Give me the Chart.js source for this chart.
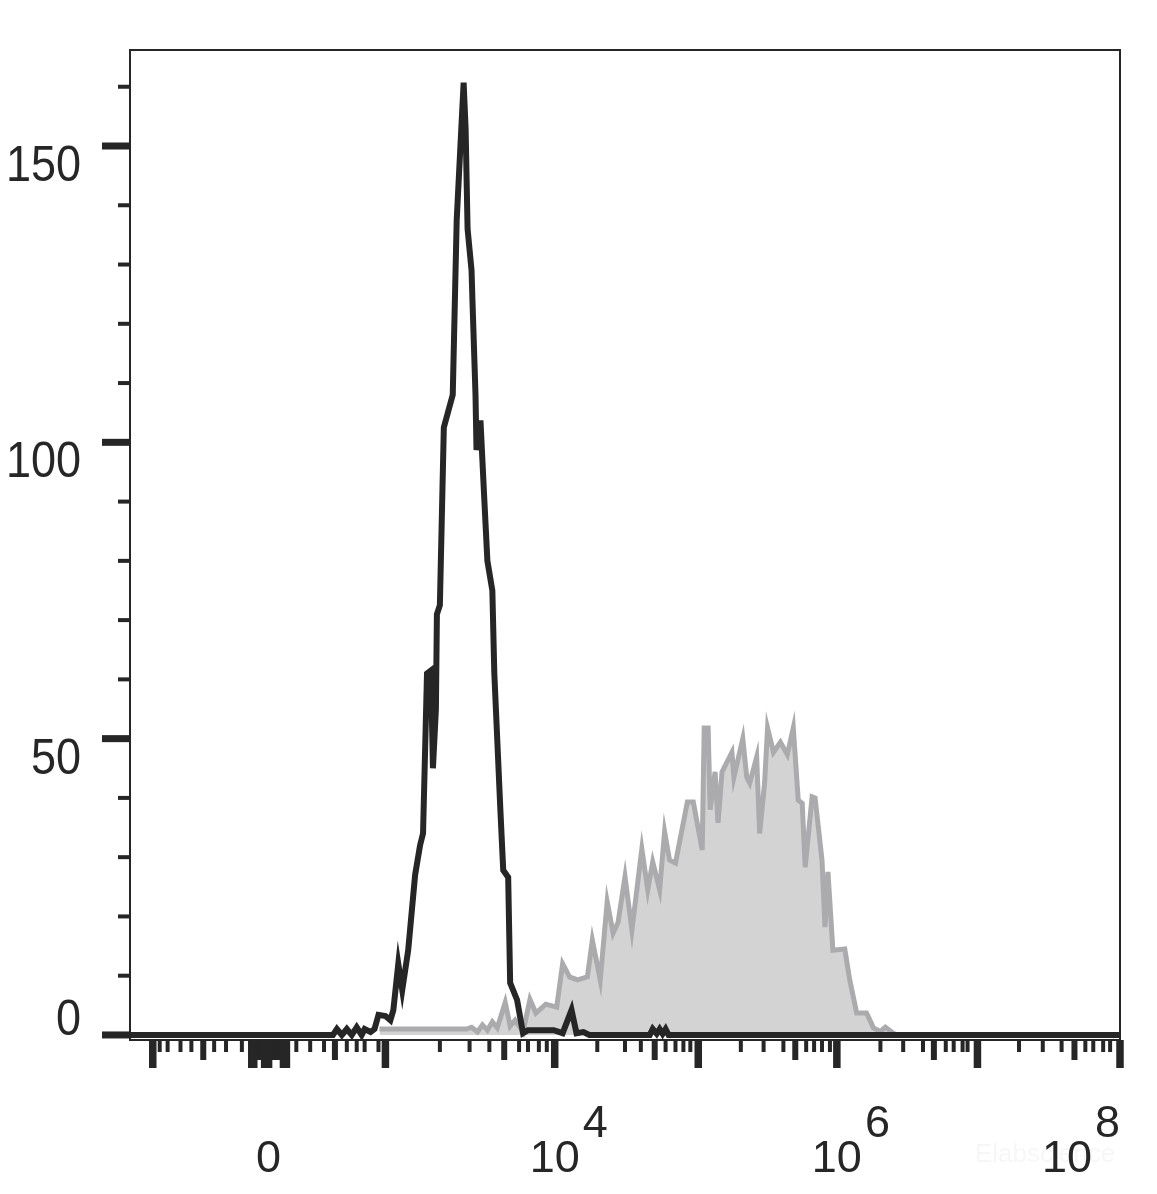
<!DOCTYPE html>
<html>
<head>
<meta charset="utf-8">
<script src="https://cdn.jsdelivr.net/npm/chart.js@4.4.1/dist/chart.umd.min.js"></script>
<style>
  html, body { margin: 0; padding: 0; background: #fff; }
  #wrap { width: 1157px; height: 1194px; }
</style>
</head>
<body>
<div id="wrap"><canvas id="histo" width="1157" height="1194"></canvas></div>
<script>
// x values are display channels (0-1000) of the biexponential axis
const isotypeX = [0, 205, 209, 214, 219, 224, 229, 234, 237, 243, 247, 251, 258, 263, 266, 271, 275, 281, 288, 293,
  296, 298, 300, 304, 306, 309, 310, 313, 317, 326, 330, 333, 337, 339, 341, 345, 346, 349, 350, 354,
  358, 361, 366, 368, 374, 377, 382, 384, 391, 397, 402, 428, 437, 446, 451, 458, 464, 525, 528, 532,
  535, 538, 541, 544, 1000];
const isotypeY = [0, 0, 1, 0, 1, 0, 1.3, 0, 1, 0.5, 1, 3.4, 3.2, 2.5, 4.2, 12, 7.6, 14.3, 27, 32,
  34, 47.5, 61, 61.5, 45, 55, 71, 72.5, 102.5, 108, 137.5, 147.5, 160.7, 153, 136, 129, 123.5, 108, 98.7, 103.7,
  90, 80, 75, 61, 38.4, 27.8, 26.6, 8.8, 5.9, 0.3, 0.8, 0.8, 0.3, 4.2, 0.3, 0.5, 0, 0, 1, 0.2,
  1, 0.2, 1, 0, 0];

const stainedX = [252, 340, 345, 351, 356, 361, 366, 371, 379, 384, 389, 397, 404, 410, 420, 431, 437, 444, 452, 462,
  467, 475, 482, 488, 493, 500, 507, 517, 523, 528, 535, 540, 545, 551, 563, 569, 578, 580, 584, 586,
  591, 594, 598, 608, 610, 619, 623, 626, 633, 636, 641, 644, 650, 657, 664, 670, 675, 679, 682, 689,
  692, 699, 702, 705, 710, 722, 727, 734, 744, 751, 758, 763, 771, 775];
const stainedY = [1, 1, 1.3, 0.5, 1.7, 0.8, 2.2, 1.2, 5.5, 1.5, 2.5, 0.5, 6, 3.7, 5.2, 4.7, 12, 9.8, 9.3, 9.8,
  16, 9.3, 22.5, 17.2, 19, 26.7, 17.7, 31.4, 24.5, 29.2, 24.5, 34.3, 29.5, 29, 39.3, 39.3, 31.2, 51.8, 51.8, 38,
  44.4, 35.8, 44.4, 47.7, 43.5, 50, 43.5, 42.5, 46.9, 34, 42.5, 51.8, 47.7, 49.4, 47.3, 51.8, 39.6, 39.1, 28.3, 40.2,
  40, 29.5, 18.2, 27.5, 14.3, 14.5, 9.3, 3.7, 3.7, 1.2, 0.6, 1.3, 0.3, 0];

const yMajorTicks = [0, 50, 100, 150];
const yMinorTicks = [10, 20, 30, 40, 60, 70, 80, 90, 110, 120, 130, 140, 160];

const xLongTicks = [23, 123, 125, 136, 140, 155, 158, 258, 429, 574, 714, 856, 1000];
const xMidTicks = [74, 130, 132, 145, 149, 207, 378, 530, 672, 812, 954];
const xShortTicks = [30, 38, 51, 62, 85, 97, 113, 168, 182, 196, 219, 229, 237, 251, 313, 343, 363, 393, 402, 413,
  421, 472, 500, 516, 541, 551, 559, 566, 617, 640, 660, 683, 691, 699, 707, 758, 781, 801, 824, 832,
  841, 846, 898, 922, 941, 965, 973, 983, 990];

const xLabelPos = [140, 429, 714, 1000];
const xLabelBase = ['0', '10', '10', '10'];
const xLabelExp = ['', '4', '6', '8'];

const ink = '#262626';

const axesPlugin = {
  id: 'flowAxes',
  afterDraw(chart) {
    const ctx = chart.ctx;
    const a = chart.chartArea;
    const xs = chart.scales.x;
    const ys = chart.scales.y;
    ctx.save();
    ctx.fillStyle = ink;
    ctx.strokeStyle = ink;

    // frame
    ctx.lineWidth = 2;
    ctx.strokeRect(a.left, a.top, a.right - a.left, a.bottom - a.top);

    // y ticks
    yMajorTicks.forEach(v => {
      const py = ys.getPixelForValue(v);
      ctx.fillRect(a.left - 28, py - 3.5, 28, 7);
    });
    yMinorTicks.forEach(v => {
      const py = ys.getPixelForValue(v);
      ctx.fillRect(a.left - 12, py - 2, 12, 4);
    });

    // x ticks
    const xt = (list, len, w) => list.forEach(v => {
      const px = xs.getPixelForValue(v);
      ctx.fillRect(px - w / 2, a.bottom, w, len);
    });
    xt(xShortTicks, 12, 4);
    xt(xMidTicks, 20, 6);
    xt(xLongTicks, 28, 7.5);

    // y labels
    ctx.font = '50px "Liberation Sans", Arial, sans-serif';
    ctx.textAlign = 'right';
    ctx.textBaseline = 'alphabetic';
    yMajorTicks.forEach(v => {
      const py = ys.getPixelForValue(v);
      const base = Math.min(py + 35, a.bottom - 5);
      ctx.save();
      ctx.translate(81, base);
      ctx.scale(0.9, 1);
      ctx.fillText(String(v), 0, 0);
      ctx.restore();
    });

    // watermark
    ctx.font = '26px "Liberation Sans", Arial, sans-serif';
    ctx.textAlign = 'left';
    ctx.fillStyle = 'rgba(0,0,0,0.035)';
    ctx.fillText('Elabscience', 975, 1162);

    // x labels
    ctx.fillStyle = ink;
    ctx.font = '45px "Liberation Sans", Arial, sans-serif';
    ctx.textAlign = 'left';
    xLabelPos.forEach((v, i) => {
      const px = xs.getPixelForValue(v);
      const wb = ctx.measureText(xLabelBase[i]).width;
      const we = xLabelExp[i] ? ctx.measureText(xLabelExp[i]).width + 3 : 0;
      let start = px - wb / 2;
      if (start + wb + we > a.right) start = a.right - wb - we;
      ctx.fillText(xLabelBase[i], start, 1172);
      if (xLabelExp[i]) ctx.fillText(xLabelExp[i], start + wb + 3, 1137);
    });
    ctx.restore();
  }
};

new Chart(document.getElementById('histo'), {
  type: 'line',
  data: {
    datasets: [
      {
        label: 'Isotype',
        data: isotypeX.map((x, i) => ({ x: x, y: isotypeY[i] })),
        borderColor: ink,
        borderWidth: 6,
        pointRadius: 0,
        tension: 0,
        fill: false,
        order: 0
      },
      {
        label: 'Stained',
        data: stainedX.map((x, i) => ({ x: x, y: stainedY[i] })),
        borderColor: '#ababad',
        backgroundColor: '#d3d3d4',
        borderWidth: 5,
        pointRadius: 0,
        tension: 0,
        fill: 'origin',
        order: 1
      }
    ]
  },
  options: {
    responsive: false,
    animation: false,
    devicePixelRatio: 1,
    layout: { padding: { left: 130, right: 37, top: 50, bottom: 154 } },
    plugins: { legend: { display: false }, tooltip: { enabled: false } },
    scales: {
      x: { type: 'linear', min: 0, max: 1000, display: false },
      y: { type: 'linear', min: -0.85, max: 166.2, display: false }
    }
  },
  plugins: [axesPlugin]
});
</script>
</body>
</html>
